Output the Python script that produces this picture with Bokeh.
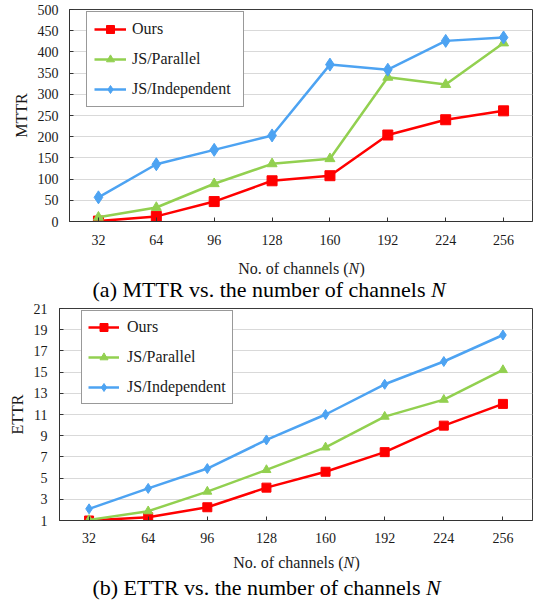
from bokeh.plotting import figure
from bokeh.models import FixedTicker, Range1d
from bokeh.layouts import column
from bokeh.embed import file_html
from bokeh.resources import INLINE
from bokeh.core.properties import value

# ---------------- data ----------------
channels = ["32", "64", "96", "128", "160", "192", "224", "256"]
series_names = ["Ours", "JS/Parallel", "JS/Independent"]

mttr_ours = [1, 12, 47, 96, 108, 204, 240, 261]
mttr_parallel = [10, 33, 89, 136, 148, 340, 323, 421]
mttr_indep = [57, 135, 169, 203, 370, 358, 426, 434]

ettr_ours = [1.0, 1.3, 2.25, 4.1, 5.6, 7.45, 9.95, 12.0]
ettr_parallel = [1.06, 1.88, 3.73, 5.77, 7.9, 10.8, 12.4, 15.2]
ettr_indep = [2.1, 4.03, 5.9, 8.6, 11.0, 13.85, 16.0, 18.5]

mttr_ticks = [0, 50, 100, 150, 200, 250, 300, 350, 400, 450, 500]
ettr_ticks = [1, 3, 5, 7, 9, 11, 13, 15, 17, 19, 21]

xtitle_parts = ["No. of channels (", "N", ")"]
caption_a_parts = ["(a) MTTR vs. the number of channels", "N"]
caption_b_parts = ["(b) ETTR vs. the number of channels", "N"]

# ---------------- style ----------------
FONT = "Liberation Serif"
COLORS = ["#FF0000", "#92D050", "#4DA3F2"]
MARKERS = ["square", "triangle", "diamond"]
TXT = "#1a1a1a"
W = 534


def make_chart(series, ylabel, yticks, yrange, height, borders, msizes,
               ylab_standoff, xlab_standoff, legend_loc, legend_opts):
    bl, br, bt, bb = borders
    p = figure(width=W, height=height, x_range=channels,
               y_range=Range1d(*yrange), output_backend="svg",
               toolbar_location=None, min_border_left=bl, min_border_right=br,
               min_border_top=bt, min_border_bottom=bb, frame_align=False)
    p.background_fill_color = "white"
    p.border_fill_color = "white"
    p.outline_line_color = "#3a3a3a"
    p.outline_line_width = 1
    p.xgrid.visible = False
    p.ygrid.grid_line_color = "#D9D9D9"
    p.ygrid.grid_line_width = 1
    p.yaxis.ticker = FixedTicker(ticks=yticks)

    for ax in (p.xaxis, p.yaxis):
        ax.axis_line_color = "#333333"
        ax.major_tick_line_color = "#333333"
        ax.major_tick_in = 4
        ax.major_tick_out = 0
        ax.minor_tick_line_color = None
        ax.major_label_text_font = FONT
        ax.major_label_text_font_size = "14px"
        ax.major_label_text_color = TXT
    p.xaxis.major_label_standoff = xlab_standoff
    p.yaxis.major_label_standoff = ylab_standoff
    p.yaxis.axis_label = ylabel
    p.yaxis.axis_label_text_font = FONT
    p.yaxis.axis_label_text_font_size = "16px"
    p.yaxis.axis_label_text_font_style = "normal"
    p.yaxis.axis_label_text_color = TXT
    p.yaxis.axis_label_standoff = 5

    for vals, name, col, mk, ms in zip(series, series_names, COLORS, MARKERS, msizes):
        p.line(channels, vals, line_color=col, line_width=2.5, legend_label=name)
        p.scatter(channels, vals, marker=mk, size=ms, fill_color=col,
                  line_color=col, legend_label=name)

    leg = p.legend[0]
    leg.location = legend_loc
    leg.border_line_color = "#333333"
    leg.border_line_width = 1
    leg.background_fill_color = "white"
    leg.background_fill_alpha = 1
    leg.label_text_font = FONT
    leg.label_text_font_size = "16px"
    leg.label_text_color = TXT
    leg.label_height = 20
    leg.glyph_height = 20
    leg.spacing = 10
    leg.margin = 0
    leg.padding = legend_opts["padding"]
    leg.glyph_width = legend_opts["glyph_width"]
    leg.label_standoff = legend_opts["standoff"]
    leg.label_width = legend_opts["label_width"]
    return p


def make_strip(height, xtitle_anchor, xtitle_y, caption_parts, caption_anchor, caption_y):
    """Text strip under a chart: x-axis title and caption (with italic N).
    Its x range is the page's pixel columns, its y range the strip's pixel rows."""
    s = figure(width=W, height=height, x_range=Range1d(0, W), y_range=Range1d(height, 0),
               output_backend="svg", toolbar_location=None,
               x_axis_type=None, y_axis_type=None, min_border=0,
               min_border_left=0, min_border_right=0, min_border_top=0,
               min_border_bottom=0, frame_align=False)
    s.outline_line_color = None
    s.grid.visible = False
    s.background_fill_color = "white"
    s.border_fill_color = "white"
    # axis title
    s.text(x=[xtitle_anchor], y=[xtitle_y], text=[xtitle_parts[0]],
           text_font=value(FONT), text_font_size="16px", text_color=TXT,
           text_align="right", text_baseline="middle")
    s.text(x=[xtitle_anchor], y=[xtitle_y], text=[xtitle_parts[1]],
           text_font=value(FONT), text_font_size="16px", text_font_style="italic",
           text_color=TXT, text_align="left", text_baseline="middle")
    s.text(x=[xtitle_anchor + 11], y=[xtitle_y], text=[xtitle_parts[2]],
           text_font=value(FONT), text_font_size="16px", text_color=TXT,
           text_align="left", text_baseline="middle")
    # caption
    s.text(x=[caption_anchor], y=[caption_y], text=[caption_parts[0]],
           text_font=value(FONT), text_font_size="22px", text_color="black",
           text_align="right", text_baseline="middle")
    s.text(x=[caption_anchor + 5.5], y=[caption_y], text=[caption_parts[1]],
           text_font=value(FONT), text_font_size="22px", text_font_style="italic",
           text_color="black", text_align="left", text_baseline="middle")
    return s


top = make_chart([mttr_ours, mttr_parallel, mttr_indep], "MTTR", mttr_ticks, (0, 500),
                 height=250, borders=(69, 2, 9, 29), msizes=(10, 10, 13),
                 ylab_standoff=11, xlab_standoff=13, legend_loc=(17, 114),
                 legend_opts=dict(padding=7, glyph_width=32, standoff=6, label_width=104))
top_strip = make_strip(52, 348, 18, caption_a_parts, 425, 39)

bottom = make_chart([ettr_ours, ettr_parallel, ettr_indep], "ETTR", ettr_ticks, (1, 21),
                    height=246, borders=(59, 2, 6, 28), msizes=(9, 9, 10),
                    ylab_standoff=12, xlab_standoff=12, legend_loc=(22, 116),
                    legend_opts=dict(padding=6, glyph_width=31, standoff=8, label_width=99))
bottom_strip = make_strip(55, 343, 14, caption_b_parts, 420, 39)

layout = column(top, top_strip, bottom, bottom_strip, spacing=0)

with open("out.html", "w") as f:
    f.write(file_html(layout, INLINE))
